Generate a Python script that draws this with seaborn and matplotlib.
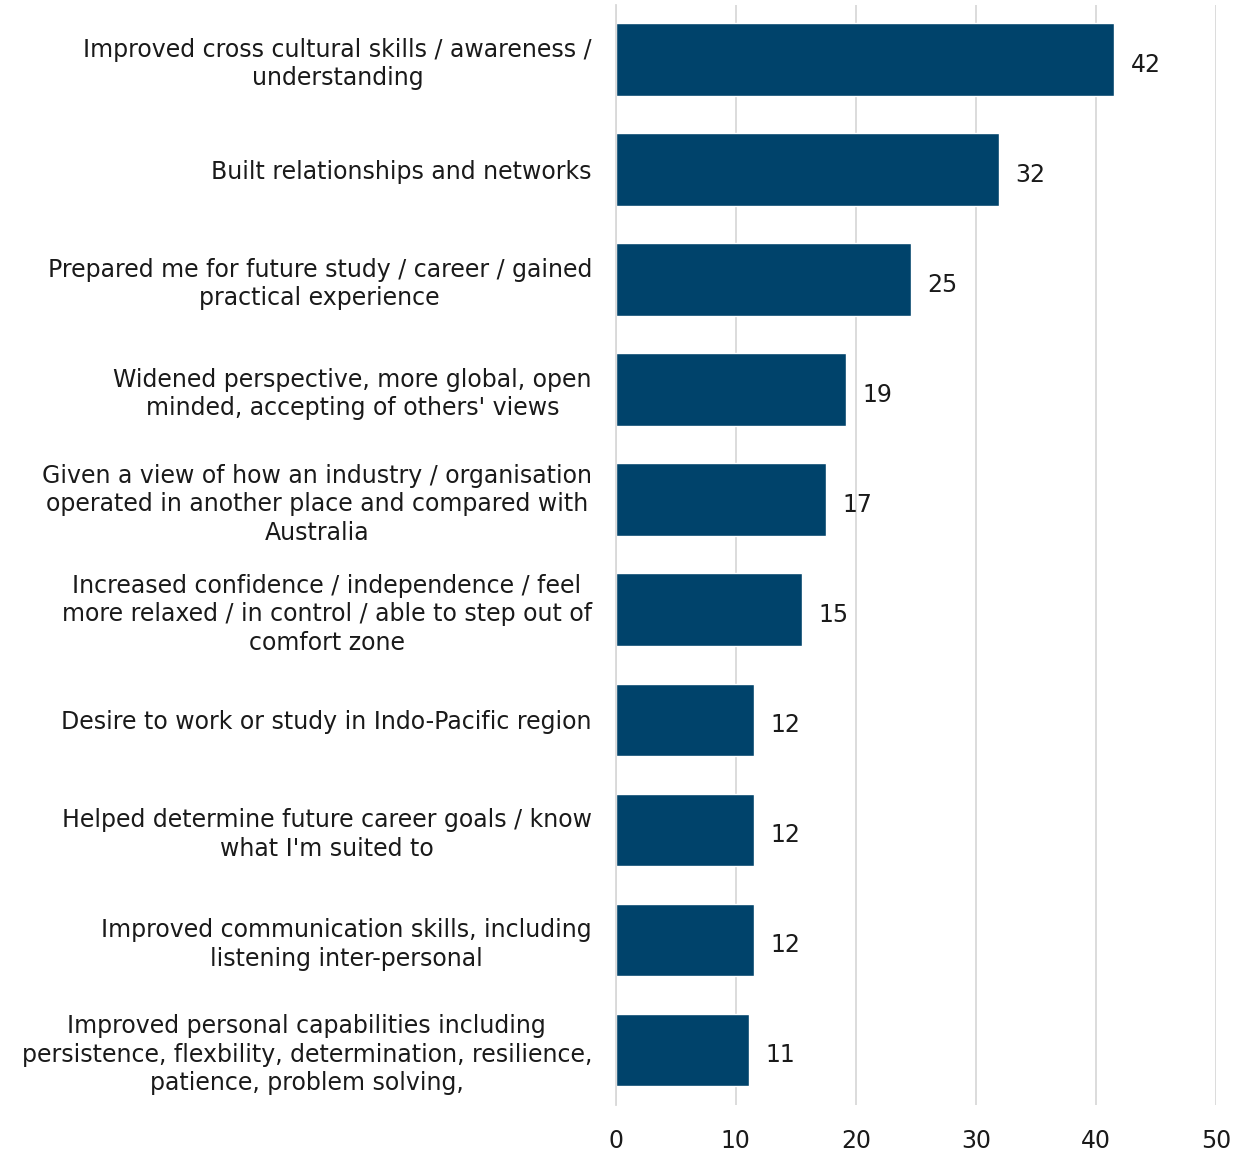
import matplotlib
matplotlib.use('Agg')
import matplotlib.pyplot as plt
import seaborn as sns
import pandas as pd

# categorii si valori (procente)
categorii = [
    "Improved cross cultural skills / awareness /\nunderstanding",
    "Built relationships and networks",
    "Prepared me for future study / career / gained\npractical experience",
    "Widened perspective, more global, open\nminded, accepting of others' views",
    "Given a view of how an industry / organisation\noperated in another place and compared with\nAustralia",
    "Increased confidence / independence / feel\nmore relaxed / in control / able to step out of\ncomfort zone",
    "Desire to work or study in Indo-Pacific region",
    "Helped determine future career goals / know\nwhat I'm suited to",
    "Improved communication skills, including\nlistening inter-personal",
    "Improved personal capabilities including\npersistence, flexbility, determination, resilience,\npatience, problem solving,",
]
valori = [41.5, 31.9, 24.6, 19.2, 17.5, 15.5, 11.5, 11.5, 11.5, 11.1]
etichete = ["42", "32", "25", "19", "17", "15", "12", "12", "12", "11"]

df = pd.DataFrame({'categorie': categorii, 'valoare': valori})

sns.set_style('white')
plt.rcParams['font.family'] = ['DejaVu Sans']

fig = plt.figure(figsize=(12.46, 11.51), dpi=100)
ax = fig.add_axes([0.494, 0.040, 0.482, 0.956])

sns.barplot(data=df, x='valoare', y='categorie', color='#00436B',
            width=0.66, saturation=1, ax=ax)

# etichetele valorilor, putin sub centrul barei
for txt in ax.bar_label(ax.containers[0], labels=etichete, padding=12,
                        fontsize=17, color='#1a1a1a'):
    txt.set_y(-4)

ax.set_xlim(0, 50)
ax.set_ylim(9.5, -0.5)
ax.set_xticks([0, 10, 20, 30, 40, 50])
ax.xaxis.grid(True, color='#d9d9d9', linewidth=1.3)
ax.set_axisbelow(True)
for s in ['top', 'right', 'bottom']:
    ax.spines[s].set_visible(False)
ax.spines['left'].set_color('#d9d9d9')
ax.spines['left'].set_linewidth(1.3)
ax.set_xlabel('')
ax.set_ylabel('')
ax.tick_params(axis='both', length=0, labelsize=17, colors='#1a1a1a')
ax.tick_params(axis='y', pad=17)
ax.tick_params(axis='x', pad=17)
for lbl in ax.get_yticklabels():
    lbl.set_multialignment('center')
    lbl.set_linespacing(1.22)

plt.savefig('out.png', dpi=100)
